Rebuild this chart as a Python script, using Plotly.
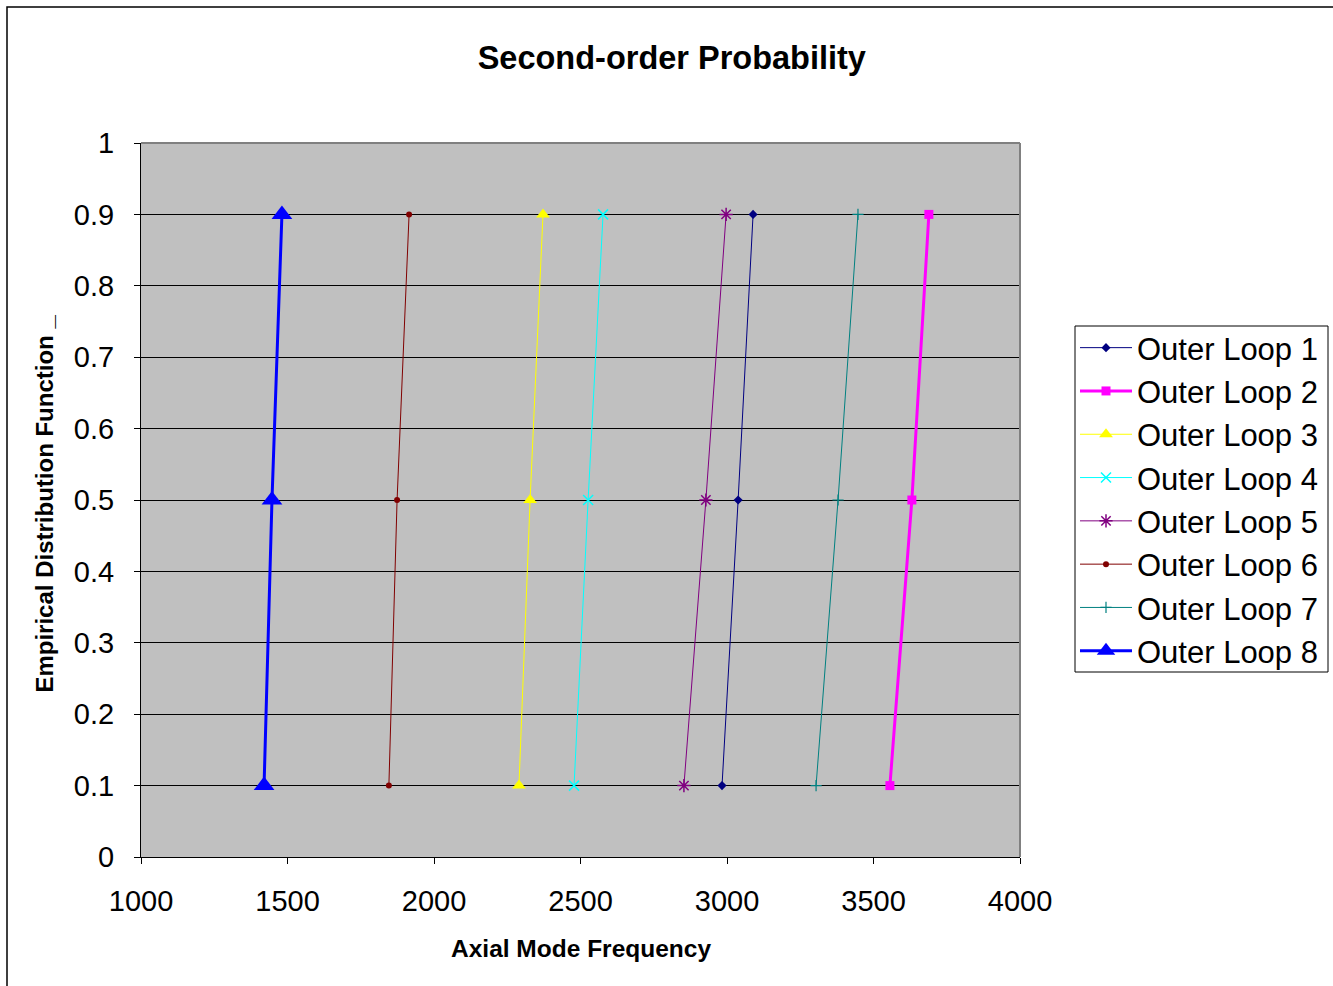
import plotly.graph_objects as go

# Empirical distribution levels shared by every outer loop
cdf_levels = [0.1, 0.5, 0.9]

# Axial mode frequency at each level, one list per outer loop
loop1 = [2983, 3038, 3089]
loop2 = [3556, 3631, 3689]
loop3 = [2290, 2328, 2372]
loop4 = [2478, 2526, 2577]
loop5 = [2853, 2928, 2997]
loop6 = [1846, 1874, 1915]
loop7 = [3304, 3379, 3447]
loop8 = [1420, 1447, 1481]

series_names = ["Outer Loop 1", "Outer Loop 2", "Outer Loop 3", "Outer Loop 4",
                "Outer Loop 5", "Outer Loop 6", "Outer Loop 7", "Outer Loop 8"]
series_values = [loop1, loop2, loop3, loop4, loop5, loop6, loop7, loop8]

styles = [
    dict(color="#000080", width=1, symbol="diamond", size=7, mline=0),
    dict(color="#FF00FF", width=3, symbol="square", size=9, mline=0),
    dict(color="#FFFF00", width=1, symbol="triangle-up", size=12, mline=0),
    dict(color="#00FFFF", width=1, symbol="x-thin-open", size=10, mline=1.5),
    dict(color="#800080", width=1, symbol="asterisk-open", size=11, mline=1.5),
    dict(color="#800000", width=1, symbol="circle", size=6, mline=0),
    dict(color="#008080", width=1, symbol="cross-thin-open", size=8, mline=1.2),
    dict(color="#0000FF", width=3, symbol="triangle-up", size=18, mline=0),
]

FONT = "Liberation Sans, Arial, sans-serif"

# Plot area in pixels, used to place the frame and legend box
PL, PR, PT, PB = 141, 1020, 143, 857
PW, PH = PR - PL, PB - PT


def px_x(p):
    return (p - PL) / PW


def px_y(p):
    return (PB - p) / PH


fig = go.Figure()
for name, xs, st in zip(series_names, series_values, styles):
    fig.add_trace(go.Scatter(
        x=xs, y=cdf_levels, name=name, mode="lines+markers",
        line=dict(color=st["color"], width=st["width"]),
        marker=dict(symbol=st["symbol"], size=st["size"], color=st["color"],
                    line=dict(color=st["color"], width=st["mline"])),
    ))

fig.update_layout(
    width=1333, height=986,
    margin=dict(l=PL, r=1333 - PR, t=PT, b=986 - PB, autoexpand=False),
    paper_bgcolor="white",
    plot_bgcolor="#C0C0C0",
    font=dict(family=FONT, color="black"),
    title=dict(text="<b>Second-order Probability</b>", x=0.504, xref="container",
               y=1 - 58 / 986, yref="container", xanchor="center", yanchor="middle",
               font=dict(size=32.5, family=FONT, color="black")),
    legend=dict(x=px_x(1075), y=px_y(321), xanchor="left", yanchor="top",
                bgcolor="rgba(0,0,0,0)", borderwidth=0,
                font=dict(size=31, family=FONT, color="black"),
                itemwidth=52),
    showlegend=True,
)

fig.update_xaxes(
    range=[1000, 4000], dtick=500, tick0=1000,
    showgrid=False, zeroline=False,
    showline=True, linecolor="black", linewidth=1,
    ticks="outside", ticklen=6, tickcolor="black",
    ticklabelstandoff=12,
    tickfont=dict(size=29, family=FONT, color="black"),
)
fig.update_yaxes(
    range=[0, 1], dtick=0.1, tick0=0,
    showgrid=True, gridcolor="black", gridwidth=1, zeroline=False,
    showline=True, linecolor="black", linewidth=1,
    ticks="outside", ticklen=6, tickcolor="black",
    ticklabelstandoff=14,
    tickfont=dict(size=29, family=FONT, color="black"),
)

# Gray top and right edges of the plotting area
fig.add_shape(type="line", xref="paper", yref="paper", x0=0, x1=1, y0=1, y1=1,
              line=dict(color="#808080", width=2), layer="above")
fig.add_shape(type="line", xref="paper", yref="paper", x0=1, x1=1, y0=0, y1=1,
              line=dict(color="#808080", width=2), layer="above")

# Outer chart frame
fig.add_shape(type="rect", xref="paper", yref="paper",
              x0=px_x(7), x1=1.45, y0=-0.3, y1=px_y(7),
              line=dict(color="black", width=1.5), layer="below")

# Legend box
fig.add_shape(type="rect", xref="paper", yref="paper",
              x0=px_x(1075), x1=px_x(1328), y0=px_y(672), y1=px_y(326),
              line=dict(color="black", width=1), fillcolor="white", layer="below")

# Axis titles
fig.add_annotation(text="<b>Axial Mode Frequency</b>", xref="paper", yref="paper",
                   x=0.5, y=px_y(948), showarrow=False,
                   xanchor="center", yanchor="middle",
                   font=dict(size=24.5, family=FONT, color="black"))
fig.add_annotation(text="<b>Empirical Distribution Function _</b>", xref="paper", yref="paper",
                   x=px_x(45), y=0.495, showarrow=False, textangle=-90,
                   xanchor="center", yanchor="middle",
                   font=dict(size=24, family=FONT, color="black"))

fig.write_html("out.html")
